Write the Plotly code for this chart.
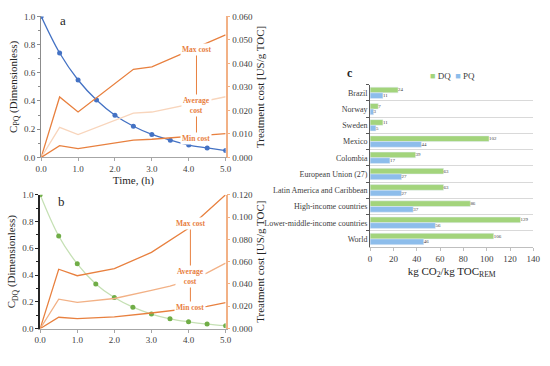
import plotly.graph_objects as go

# ---------- Data ----------
time_h = [0.0, 0.5, 1.0, 1.5, 2.0, 2.5, 3.0, 3.5, 4.0, 4.5, 5.0]
c_pq = [1.0, 0.74, 0.549, 0.407, 0.299, 0.221, 0.163, 0.122, 0.087, 0.067, 0.048]
c_dq = [1.0, 0.692, 0.484, 0.334, 0.232, 0.160, 0.109, 0.073, 0.051, 0.034, 0.022]

cost_time_a = [0.0, 0.5, 1.0, 2.5, 3.0, 5.0]
max_cost_a = [0.0, 0.0257, 0.0193, 0.0375, 0.0385, 0.0521]
avg_cost_a = [0.0, 0.0128, 0.0097, 0.0188, 0.0193, 0.0258]
min_cost_a = [0.0, 0.0050, 0.0037, 0.0073, 0.0077, 0.0101]

cost_time_b = [0.0, 0.5, 1.0, 2.0, 3.0, 3.5, 4.0, 4.5, 5.0]
max_cost_b = [0.0, 0.0532, 0.0474, 0.0538, 0.0683, 0.079, 0.090, 0.105, 0.120]
avg_cost_b = [0.0, 0.0264, 0.0235, 0.0270, 0.0343, 0.038, 0.043, 0.050, 0.0587]
min_cost_b = [0.0, 0.0102, 0.0090, 0.0105, 0.0140, 0.016, 0.018, 0.020, 0.0232]

regions = ["Brazil", "Norway", "Sweden", "Mexico", "Colombia", "European Union (27)",
           "Latin America and Caribbean", "High-income countries",
           "Lower-middle-income countries", "World"]
dq_co2 = [24, 7, 11, 102, 39, 63, 63, 86, 129, 106]
pq_co2 = [11, 3, 5, 44, 17, 27, 27, 37, 56, 46]

time_ticks = [0, 1, 2, 3, 4, 5]
cost_ticks_a = [0.0, 0.01, 0.02, 0.03, 0.04, 0.05, 0.06]
cost_ticks_b = [0.0, 0.02, 0.04, 0.06, 0.08, 0.10, 0.12]

# label placement (annotation positions, data units)
lab_x_a, lab_max_a, lab_avg_a, lab_min_a = 4.21, 0.0459, 0.0222, 0.0082
lab_x_b, lab_max_b, lab_avg_b, lab_min_b = 4.05, 0.0939, 0.0466, 0.0192

FONT = "Liberation Serif, Times New Roman, serif"
ORANGE = "#E8803F"
ORANGE_L = "#F2B186"
ORANGE_LL = "#F8D5BC"
BLUE = "#4472C4"
GREEN = "#70AD47"
GREEN_L = "#C5E0B4"
DQ_COL = "#A3D47C"
PQ_COL = "#8DBDEB"

fig = go.Figure()

# --- Panel a ---
fig.add_trace(go.Scatter(x=cost_time_a, y=max_cost_a, mode="lines", line=dict(color=ORANGE, width=1.3),
                         xaxis="x", yaxis="y2", showlegend=False))
fig.add_trace(go.Scatter(x=cost_time_a, y=avg_cost_a, mode="lines", line=dict(color=ORANGE_LL, width=1.3),
                         xaxis="x", yaxis="y2", showlegend=False))
fig.add_trace(go.Scatter(x=cost_time_a, y=min_cost_a, mode="lines", line=dict(color=ORANGE, width=1.3),
                         xaxis="x", yaxis="y2", showlegend=False))
fig.add_trace(go.Scatter(x=[lab_x_a, lab_x_a], y=[lab_max_a, lab_min_a], mode="lines",
                         line=dict(color=ORANGE, width=1), xaxis="x", yaxis="y2", showlegend=False))
fig.add_trace(go.Scatter(x=time_h, y=c_pq, mode="lines+markers", line=dict(color=BLUE, width=1.3, shape="spline"),
                         marker=dict(color=BLUE, size=5), xaxis="x", yaxis="y", showlegend=False))

# --- Panel b ---
fig.add_trace(go.Scatter(x=cost_time_b, y=max_cost_b, mode="lines", line=dict(color=ORANGE, width=1.3),
                         xaxis="x2", yaxis="y4", showlegend=False))
fig.add_trace(go.Scatter(x=cost_time_b, y=avg_cost_b, mode="lines", line=dict(color=ORANGE_L, width=1.3),
                         xaxis="x2", yaxis="y4", showlegend=False))
fig.add_trace(go.Scatter(x=cost_time_b, y=min_cost_b, mode="lines", line=dict(color=ORANGE, width=1.3),
                         xaxis="x2", yaxis="y4", showlegend=False))
fig.add_trace(go.Scatter(x=[lab_x_b, lab_x_b], y=[lab_max_b, lab_min_b], mode="lines",
                         line=dict(color=ORANGE, width=1), xaxis="x2", yaxis="y4", showlegend=False))
fig.add_trace(go.Scatter(x=time_h, y=c_dq, mode="lines+markers", line=dict(color=GREEN_L, width=1.3, shape="spline"),
                         marker=dict(color=GREEN, size=5), xaxis="x2", yaxis="y3", showlegend=False))

# --- Panel c ---
fig.add_trace(go.Bar(y=regions, x=dq_co2, orientation="h", name="DQ", marker_color=DQ_COL,
                     text=dq_co2, textposition="outside", textfont=dict(size=7, color="#404040", family=FONT),
                     cliponaxis=False, xaxis="x3", yaxis="y5", showlegend=False))
fig.add_trace(go.Bar(y=regions, x=pq_co2, orientation="h", name="PQ", marker_color=PQ_COL,
                     text=pq_co2, textposition="outside", textfont=dict(size=7, color="#404040", family=FONT),
                     cliponaxis=False, xaxis="x3", yaxis="y5", showlegend=False))

tickfont = dict(family=FONT, size=9, color="#404040")
titlefont = dict(family=FONT, size=11, color="#262626")

time_axis = dict(range=[0, 5], tickvals=time_ticks, tickformat=".1f", showgrid=False, zeroline=False,
                 showline=True, linecolor="#A6A6A6", linewidth=1, ticks="outside", ticklen=3,
                 tickcolor="#A6A6A6", tickfont=tickfont)
conc_axis = dict(range=[0, 1.0], dtick=0.2, tickformat=".1f", showgrid=False, zeroline=False,
                 showline=True, ticks="outside", ticklen=3, tickfont=tickfont)
cost_axis = dict(side="right", showgrid=False, zeroline=False, showline=True, linecolor=ORANGE_L,
                 linewidth=1.5, ticks="outside", ticklen=3, tickcolor=ORANGE_L, tickformat=".3f",
                 tickfont=tickfont)

fig.update_layout(
    width=550, height=366, margin=dict(l=0, r=0, t=0, b=0),
    paper_bgcolor="white", plot_bgcolor="white",
    font=dict(family=FONT),
    xaxis=dict(time_axis, domain=[0.0655, 0.409], anchor="y",
               title=dict(text="Time, (h)", font=titlefont, standoff=2)),
    yaxis=dict(conc_axis, domain=[0.572, 0.968], anchor="x",
               linecolor="#8C8C8C", linewidth=1, tickcolor="#8C8C8C",
               minor=dict(dtick=0.1, ticks="outside", ticklen=2, tickcolor="#8C8C8C"),
               title=dict(text="C<sub>PQ</sub> (Dimensionless)", font=titlefont, standoff=4)),
    yaxis2=dict(cost_axis, range=[0, 0.06], tickvals=cost_ticks_a, overlaying="y", anchor="x",
                title=dict(text="Treatment cost [US/g TOC]", font=titlefont, standoff=4)),
    xaxis2=dict(time_axis, domain=[0.0636, 0.409], anchor="y3"),
    yaxis3=dict(conc_axis, domain=[0.091, 0.467], anchor="x2",
                linecolor="#262626", linewidth=1.8, tickcolor="#262626",
                minor=dict(dtick=0.1, ticks="outside", ticklen=2, tickcolor="#262626"),
                title=dict(text="C<sub>DQ</sub> (Dimensionless)", font=titlefont, standoff=4)),
    yaxis4=dict(cost_axis, range=[0, 0.12], tickvals=cost_ticks_b, overlaying="y3", anchor="x2",
                title=dict(text="Treatment cost [US/g TOC]", font=titlefont, standoff=4)),
    xaxis3=dict(domain=[0.678, 0.982], anchor="y5", range=[0, 140], dtick=20, showgrid=False,
                zeroline=False, showline=True, linecolor="#BFBFBF", ticks="outside", ticklen=3,
                tickcolor="#BFBFBF", tickfont=tickfont,
                title=dict(text="kg CO<sub>2</sub>/kg TOC<sub>REM</sub>", font=titlefont, standoff=4)),
    yaxis5=dict(domain=[0.320, 0.776], anchor="x3", autorange="reversed", type="category",
                tickson="boundaries", showgrid=True, gridcolor="#D9D9D9", gridwidth=1,
                showline=True, linecolor="#595959", ticks="outside", ticklen=3, tickcolor="#595959",
                tickfont=dict(family=FONT, size=8, color="#404040")),
    barmode="group", bargap=0.3, bargroupgap=0.0,
    showlegend=False,
)

ann_font = dict(family=FONT, size=7.5, color=ORANGE, weight="bold")
legend_text = (f'<span style="color:{DQ_COL}">■</span> DQ  '
               f'<span style="color:{PQ_COL}">■</span> PQ')
annotations = [
    dict(text="a", x=0.58, y=0.97, xref="x", yref="y", showarrow=False,
         font=dict(family=FONT, size=13, color="#262626")),
    dict(text="b", x=0.58, y=0.95, xref="x2", yref="y3", showarrow=False,
         font=dict(family=FONT, size=13, color="#262626")),
    dict(text="c", x=352 / 550, y=1 - 70 / 366, xref="paper", yref="paper", showarrow=False,
         xanchor="center", yanchor="middle",
         font=dict(family=FONT, size=12, color="#262626", weight="bold")),
    dict(text=legend_text, x=457 / 550, y=1 - 73 / 366, xref="paper", yref="paper", showarrow=False,
         xanchor="center", yanchor="middle", font=dict(family=FONT, size=9, color="#404040")),
    dict(text="Max cost", x=lab_x_a, y=lab_max_a, xref="x", yref="y2", showarrow=False,
         font=ann_font, bgcolor="white"),
    dict(text="Average<br>cost", x=lab_x_a, y=lab_avg_a, xref="x", yref="y2", showarrow=False,
         font=ann_font, bgcolor="white"),
    dict(text="Min cost", x=lab_x_a, y=lab_min_a, xref="x", yref="y2", showarrow=False,
         font=ann_font, bgcolor="white"),
    dict(text="Max cost", x=lab_x_b, y=lab_max_b, xref="x2", yref="y4", showarrow=False,
         font=ann_font, bgcolor="white"),
    dict(text="Average<br>cost", x=lab_x_b, y=lab_avg_b, xref="x2", yref="y4", showarrow=False,
         font=ann_font, bgcolor="white"),
    dict(text="Min cost", x=lab_x_b, y=lab_min_b, xref="x2", yref="y4", showarrow=False,
         font=ann_font, bgcolor="white"),
]
fig.update_layout(annotations=annotations)

fig.write_html("out.html", config={"displayModeBar": False},
               post_script="document.body.style.margin='0px';")
